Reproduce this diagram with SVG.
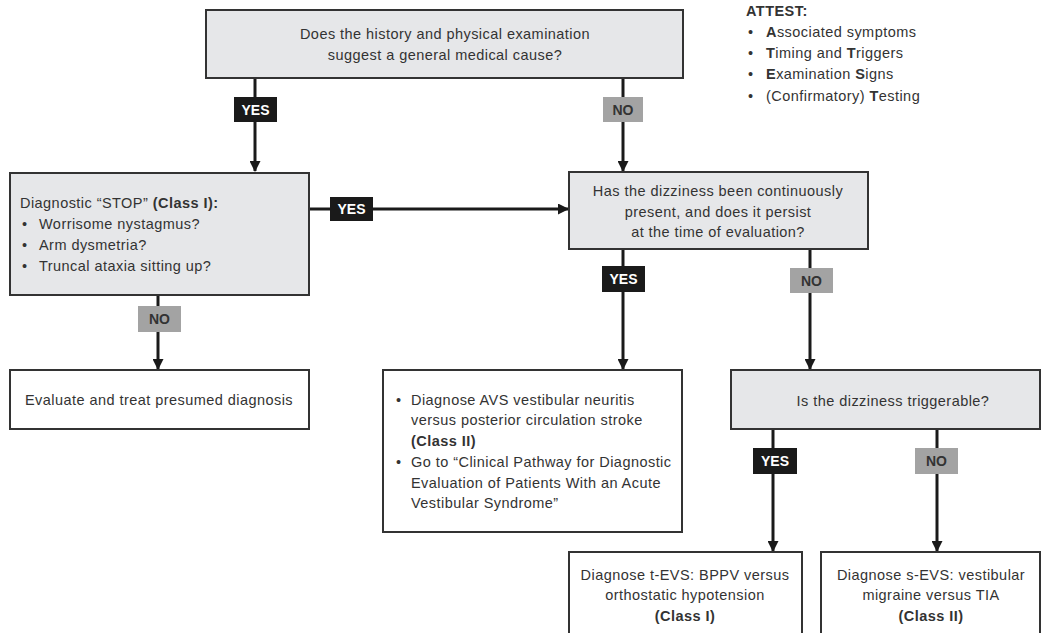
<svg xmlns="http://www.w3.org/2000/svg" width="1042" height="633" viewBox="0 0 1042 633">
<style>
text{font-family:"Liberation Sans",Arial,sans-serif;font-size:14.5px;letter-spacing:0.45px;fill:#333}
.b{font-weight:bold}
.c{text-anchor:middle}
.q{fill:#e6e7e9;stroke:#333;stroke-width:2}
.w{fill:#fff;stroke:#333;stroke-width:2}
.ln{stroke:#1a1a1a;stroke-width:3;fill:none}
.yes{fill:#1a1a1a}
.no{fill:#a3a3a3}
.yt{fill:#fff;font-weight:bold;text-anchor:middle;font-size:14px;letter-spacing:0}
.nt{fill:#333;font-weight:bold;text-anchor:middle;font-size:14px;letter-spacing:0}
</style>
<defs>
<marker id="ah" markerWidth="11" markerHeight="11" refX="10" refY="5.5" orient="auto" markerUnits="userSpaceOnUse" viewBox="0 0 11 11">
<path d="M0,0 L11,5.5 L0,11 z" fill="#1a1a1a"/>
</marker>
</defs>
<rect width="1042" height="633" fill="#fff"/>
<g id="connectors">
<path class="ln" d="M255,78 V171" marker-end="url(#ah)"/>
<path class="ln" d="M623,78 V171" marker-end="url(#ah)"/>
<path class="ln" d="M309,209 H568" marker-end="url(#ah)"/>
<path class="ln" d="M158,295 V369" marker-end="url(#ah)"/>
<path class="ln" d="M623,249 V369" marker-end="url(#ah)"/>
<path class="ln" d="M810,249 V369" marker-end="url(#ah)"/>
<path class="ln" d="M773,429 V551" marker-end="url(#ah)"/>
<path class="ln" d="M937,429 V551" marker-end="url(#ah)"/>
<rect class="yes" x="234" y="97" width="43" height="25"/><text class="yt" x="255.5" y="114.5">YES</text>
<rect class="no" x="603" y="97" width="40" height="25"/><text class="nt" x="623" y="114.5">NO</text>
<rect class="yes" x="330" y="197" width="43" height="24"/><text class="yt" x="351.5" y="214">YES</text>
<rect class="no" x="138" y="306" width="43" height="26"/><text class="nt" x="159.5" y="324">NO</text>
<rect class="yes" x="602" y="266" width="43" height="26"/><text class="yt" x="623.5" y="284">YES</text>
<rect class="no" x="790" y="268" width="43" height="25"/><text class="nt" x="811.5" y="286">NO</text>
<rect class="yes" x="753" y="448" width="44" height="26"/><text class="yt" x="775" y="466">YES</text>
<rect class="no" x="915" y="448" width="43" height="26"/><text class="nt" x="936.5" y="466">NO</text>
</g>
<g id="q1">
<rect class="q" x="206" y="10" width="477" height="68"/>
<text class="c" x="445" y="39">Does the history and physical examination</text>
<text class="c" x="445" y="60">suggest a general medical cause?</text>
</g>
<g id="attest">
<text class="b" x="746" y="16">ATTEST:</text>
<text x="748" y="37">•</text><text x="766" y="37"><tspan class="b">A</tspan>ssociated symptoms</text>
<text x="748" y="58">•</text><text x="766" y="58"><tspan class="b">T</tspan>iming and <tspan class="b">T</tspan>riggers</text>
<text x="748" y="79">•</text><text x="766" y="79"><tspan class="b">E</tspan>xamination <tspan class="b">S</tspan>igns</text>
<text x="748" y="101">•</text><text x="766" y="101">(Confirmatory) <tspan class="b">T</tspan>esting</text>
</g>
<g id="stop">
<rect class="q" x="10" y="173" width="299" height="122"/>
<text x="20" y="208">Diagnostic “STOP” <tspan class="b">(Class I):</tspan></text>
<text x="22" y="229">•</text><text x="39" y="229">Worrisome nystagmus?</text>
<text x="22" y="250">•</text><text x="39" y="250">Arm dysmetria?</text>
<text x="22" y="271">•</text><text x="39" y="271">Truncal ataxia sitting up?</text>
</g>
<g id="q2">
<rect class="q" x="569" y="172" width="299" height="77"/>
<text class="c" x="718" y="196">Has the dizziness been continuously</text>
<text class="c" x="718" y="217">present, and does it persist</text>
<text class="c" x="718" y="237">at the time of evaluation?</text>
</g>
<g id="evaluate">
<rect class="w" x="10" y="370" width="299" height="59"/>
<text class="c" x="159" y="405">Evaluate and treat presumed diagnosis</text>
</g>
<g id="avs">
<rect class="w" x="383" y="370" width="299" height="162"/>
<text x="396" y="405">•</text><text x="411" y="405">Diagnose AVS vestibular neuritis</text>
<text x="411" y="425">versus posterior circulation stroke</text>
<text class="b" x="411" y="446">(Class II)</text>
<text x="396" y="467">•</text><text x="411" y="467">Go to “Clinical Pathway for Diagnostic</text>
<text x="411" y="488">Evaluation of Patients With an Acute</text>
<text x="411" y="508">Vestibular Syndrome”</text>
</g>
<g id="q3">
<rect class="q" x="731" y="370" width="309" height="59"/>
<text class="c" x="893" y="406">Is the dizziness triggerable?</text>
</g>
<g id="tevs">
<rect class="w" x="569" y="552" width="233" height="90"/>
<text class="c" x="685" y="580">Diagnose t-EVS: BPPV versus</text>
<text class="c" x="685" y="600">orthostatic hypotension</text>
<text class="c b" x="685" y="621">(Class I)</text>
</g>
<g id="sevs">
<rect class="w" x="821" y="552" width="219" height="90"/>
<text class="c" x="931" y="580">Diagnose s-EVS: vestibular</text>
<text class="c" x="931" y="600">migraine versus TIA</text>
<text class="c b" x="931" y="621">(Class II)</text>
</g>
</svg>
